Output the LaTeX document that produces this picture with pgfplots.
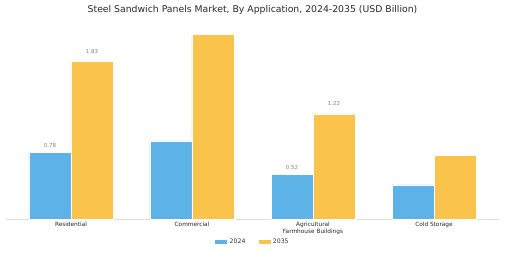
\documentclass[border=0pt]{standalone}
\usepackage{fontspec}
\setmainfont{DejaVu Sans}
\usepackage{pgfplots}
\pgfplotsset{compat=1.18}
\definecolor{cblue}{RGB}{93,179,232}
\definecolor{cyellow}{RGB}{250,195,75}
\definecolor{ctitle}{RGB}{40,40,40}
\definecolor{clabel}{RGB}{130,130,130}
\begin{document}
\begin{tikzpicture}
\useasboundingbox (-6pt,-33.5pt) rectangle (499pt,219.5pt);
\begin{axis}[
  at={(0,0)}, anchor=south west,
  scale only axis, width=493pt, height=189.5pt,
  xmin=-0.537, xmax=3.537, ymin=0, ymax=2.19,
  ybar, bar width=42pt,
  axis x line*=bottom, axis y line=none,
  x axis line style={draw=black!12, line width=0.6pt},
  xtick={0,1,2,3},
  xticklabels={Residential,Commercial,{Agricultural\\Farmhouse Buildings},Cold Storage},
  x tick label style={font=\fontsize{5.8}{7}\selectfont, align=center, text=black!85, yshift=1pt},
  major tick length=0pt,
  xtick style={draw=none},
  ytick=\empty,
  legend columns=2,
  legend style={at={(0.5,-0.1187)}, anchor=center, draw=none, fill=none,
    font=\fontsize{6.2}{7}\selectfont, text=black!80,
    /tikz/every even column/.append style={column sep=10pt}},
  legend image code/.code={\fill[#1] (0pt,-2.4pt) rectangle (13pt,2.4pt);},
  nodes near coords,
  point meta=explicit symbolic,
  every node near coord/.append style={font=\fontsize{5.5}{6}\selectfont, text=clabel},
  clip=false,
]
\addplot[fill=cblue, draw=white, line width=0.4pt, bar shift=-21pt,
  every node near coord/.append style={yshift=1pt}]
  coordinates {(0,0.78)[0.78] (1,0.91)[] (2,0.52)[0.52] (3,0.40)[]};
\addplot[fill=cyellow, draw=white, line width=0.4pt, bar shift=21pt,
  every node near coord/.append style={yshift=4.5pt}]
  coordinates {(0,1.83)[1.83] (1,2.14)[] (2,1.22)[1.22] (3,0.74)[]};
\legend{2024,2035}
\end{axis}
\node[font=\fontsize{9.3}{11}\selectfont, text=ctitle] at (246.5pt,209.5pt) {Steel Sandwich Panels Market, By Application, 2024-2035 (USD Billion)};
\end{tikzpicture}
\end{document}
